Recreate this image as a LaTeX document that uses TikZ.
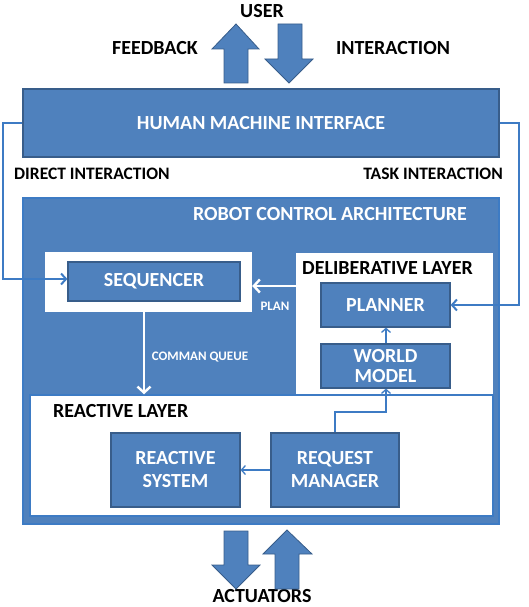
\documentclass[tikz,border=0pt]{standalone}
\usepackage{fontspec}
\setmainfont{Carlito}
\usetikzlibrary{arrows.meta}
\definecolor{boxblue}{HTML}{4F81BD}
\definecolor{edgeblue}{HTML}{385D8A}
\definecolor{lineblue}{HTML}{3D7BC4}
\tikzset{
  x=1pt,y=-1pt,
  bluebox/.style={draw=edgeblue,line width=1.2pt,fill=boxblue,text=white,font=\fontsize{20}{22}\selectfont\bfseries,align=center,inner sep=0pt},
  whitebox/.style={fill=white,inner sep=0pt},
  lbl/.style={font=\fontsize{20}{22}\selectfont\bfseries,inner sep=0pt},
  smalllbl/.style={font=\fontsize{13}{15}\selectfont\bfseries,text=white,inner sep=0pt},
  midlbl/.style={font=\fontsize{17.5}{19}\selectfont\bfseries,inner sep=0pt},
  link/.style={draw=lineblue,line width=2.2pt,-{Straight Barb[length=5pt,width=11pt,line width=2pt]}},
  thinlink/.style={draw=lineblue,line width=1.3pt,-{Straight Barb[length=4pt,width=9pt,line width=1.3pt]}},
  whitelink/.style={draw=white,line width=2.6pt,-{Straight Barb[length=6pt,width=13pt,line width=2.4pt]}},
  blockarrow/.style={fill=boxblue,draw=edgeblue,line width=0.8pt},
}
\begin{document}
\begin{tikzpicture}
\useasboundingbox (0,0) rectangle (529,607);
% outer boxes
\node[bluebox,minimum width=476pt,minimum height=68pt] (hmi) at (261,123) {HUMAN MACHINE INTERFACE};
\node[fill=boxblue,draw=lineblue,line width=1.6pt,inner sep=0pt,minimum width=476pt,minimum height=326pt] (rca) at (261,361) {};
\node[lbl,text=white] (rcal) at (330,214) {ROBOT CONTROL ARCHITECTURE};
% deliberative layer
\node[whitebox,minimum width=197pt,minimum height=142pt] (delib) at (394.5,324) {};
% reactive layer
\node[fill=white,draw=lineblue,line width=1.5pt,inner sep=0pt,minimum width=463pt,minimum height=121pt] (react) at (261.5,455.5) {};
\node[lbl,anchor=west] (delibl) at (302,268) {DELIBERATIVE LAYER};
\node[lbl,anchor=west] (reactl) at (53,411) {REACTIVE LAYER};
% sequencer
\node[whitebox,minimum width=207pt,minimum height=60pt] (seqout) at (148.5,282) {};
\node[bluebox,minimum width=172pt,minimum height=39pt] (seq) at (154,281.5) {SEQUENCER};
% planner, world model
\node[bluebox,minimum width=129pt,minimum height=44pt] (plan) at (385.5,305) {PLANNER};
\node[bluebox,minimum width=129pt,minimum height=44pt] (world) at (385.5,366) {WORLD\\[-2pt]MODEL};
% reactive
\node[bluebox,minimum width=129pt,minimum height=74pt] (rsys) at (175.5,470) {REACTIVE\\[1pt]SYSTEM};
\node[bluebox,minimum width=128pt,minimum height=74pt] (rman) at (335,470) {REQUEST\\[1pt]MANAGER};
% labels
\node[lbl] (user) at (262,11) {USER};
\node[lbl] (fb) at (155,48) {FEEDBACK};
\node[lbl] (inter) at (393,48) {INTERACTION};
\node[lbl] (act) at (262,596.5) {ACTUATORS};
\node[midlbl,anchor=west] (dil) at (14,174) {DIRECT INTERACTION};
\node[midlbl,anchor=east] (til) at (503,174) {TASK INTERACTION};
\node[smalllbl] (planl) at (275,306) {PLAN};
\node[smalllbl] (cql) at (200,357) {COMMAN QUEUE};
% block arrows
\draw[blockarrow] (224,83) -- (224,49) -- (212,49) -- (236,24) -- (259,49) -- (248,49) -- (248,83) -- cycle;
\draw[blockarrow] (278,24) -- (302,24) -- (302,59) -- (313,59) -- (289,83) -- (265,59) -- (278,59) -- cycle;
\draw[blockarrow] (224,531) -- (248,531) -- (248,565) -- (260,565) -- (236,589) -- (212,565) -- (224,565) -- cycle;
\draw[blockarrow] (275,589) -- (275,554) -- (263,554) -- (287,530) -- (312,554) -- (299,554) -- (299,589) -- cycle;
% connectors
\coordinate (lt) at (3,123);
\coordinate (lb) at (3,279);
\coordinate (rt) at (519,123);
\coordinate (rb) at (519,305);
\draw[link] (hmi.west |- lt) -- (lt) -- (lb) -- (seq.west |- lb);
\draw[link] (hmi.east |- rt) -- (rt) -- (rb) -- (plan.east);
\coordinate (pa) at (300,286);
\draw[whitelink] (pa) -- (seqout.east |- pa);
\coordinate (cq) at (144,312);
\draw[whitelink] (seqout.south -| cq) -- (react.north -| cq);
\draw[thinlink] (world.north -| 386,0) -- (plan.south -| 386,0);
\coordinate (k1) at (335,412);
\coordinate (k2) at (386,412);
\draw[thinlink] (rman.north -| k1) -- (k1) -- (k2) -- (world.south -| k2);
\draw[thinlink] (rman.west) -- (rsys.east);
\end{tikzpicture}
\end{document}
